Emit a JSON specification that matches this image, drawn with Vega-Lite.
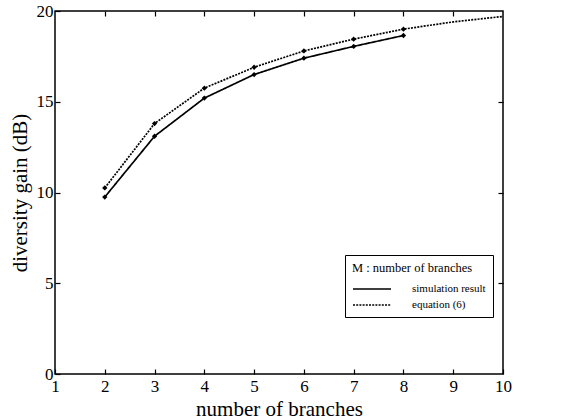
{
  "$schema": "https://vega.github.io/schema/vega-lite/v6.json",
  "autosize": "none",
  "width": 448,
  "height": 363,
  "padding": {"left": 55, "top": 11, "right": 59, "bottom": 46},
  "background": "white",
  "config": {
    "view": {"stroke": "black", "strokeWidth": 1.5},
    "axis": {
      "domain": false,
      "grid": false,
      "ticks": true,
      "tickColor": "black",
      "tickWidth": 1.2,
      "tickSize": -5,
      "labelFont": "Liberation Serif",
      "labelFontSize": 17,
      "labelColor": "black",
      "titleFont": "Liberation Serif",
      "titleFontSize": 21,
      "titleFontWeight": "normal",
      "titleColor": "black"
    }
  },
  "data": {
    "values": [
      {"M": 2, "gain": 9.75, "series": "simulation result"},
      {"M": 3, "gain": 13.1, "series": "simulation result"},
      {"M": 4, "gain": 15.2, "series": "simulation result"},
      {"M": 5, "gain": 16.5, "series": "simulation result"},
      {"M": 6, "gain": 17.4, "series": "simulation result"},
      {"M": 7, "gain": 18.05, "series": "simulation result"},
      {"M": 8, "gain": 18.65, "series": "simulation result"},
      {"M": 2, "gain": 10.25, "series": "equation (6)"},
      {"M": 3, "gain": 13.8, "series": "equation (6)"},
      {"M": 4, "gain": 15.75, "series": "equation (6)"},
      {"M": 5, "gain": 16.9, "series": "equation (6)"},
      {"M": 6, "gain": 17.8, "series": "equation (6)"},
      {"M": 7, "gain": 18.45, "series": "equation (6)"},
      {"M": 8, "gain": 19.0, "series": "equation (6)"},
      {"M": 9, "gain": 19.4, "series": "equation (6)"},
      {"M": 10, "gain": 19.7, "series": "equation (6)"}
    ]
  },
  "resolve": {"axis": {"x": "independent", "y": "independent"}},
  "layer": [
    {
      "mark": {"type": "line", "color": "black", "strokeWidth": 1.7},
      "encoding": {
        "x": {"field": "M", "type": "quantitative",
              "scale": {"domain": [1, 10], "nice": false, "zero": false},
              "axis": {"title": "number of branches", "values": [1,2,3,4,5,6,7,8,9,10], "labelPadding": 9, "titlePadding": 4, "labelFlush": false}},
        "y": {"field": "gain", "type": "quantitative",
              "scale": {"domain": [0, 20], "nice": false},
              "axis": {"title": "diversity gain (dB)", "values": [0,5,10,15,20], "labelPadding": 7, "titlePadding": 6}},
        "strokeDash": {"field": "series", "type": "nominal",
          "scale": {"domain": ["simulation result", "equation (6)"], "range": [[1, 0], [2, 1.2]]},
          "legend": {
            "title": "M : number of branches",
            "orient": "none",
            "legendX": 290,
            "legendY": 244,
            "direction": "vertical",
            "symbolType": "M-1,0H3",
            "symbolStrokeColor": "black",
            "symbolStrokeWidth": 1.3,
            "symbolSize": 361,
            "labelFont": "Liberation Serif",
            "labelFontSize": 11,
            "labelColor": "black",
            "labelOffset": 39,
            "titleFont": "Liberation Serif",
            "titleFontSize": 12.5,
            "titleFontWeight": "normal",
            "titleColor": "black",
            "titlePadding": 4,
            "rowPadding": 0,
            "strokeColor": "black",
            "fillColor": "white",
            "padding": 7,
            "cornerRadius": 0
          }}
      }
    },
    {
      "transform": [{"filter": "datum.M <= 8"}],
      "mark": {"type": "point", "shape": "diamond", "filled": true, "color": "black", "size": 28, "opacity": 1},
      "encoding": {
        "x": {"field": "M", "type": "quantitative",
              "axis": {"orient": "top", "labels": false, "title": null, "values": [2,3,4,5,6,7,8,9]}},
        "y": {"field": "gain", "type": "quantitative",
              "axis": {"orient": "right", "labels": false, "title": null, "values": [5,10,15]}},
        "detail": {"field": "series"}
      }
    }
  ]
}
